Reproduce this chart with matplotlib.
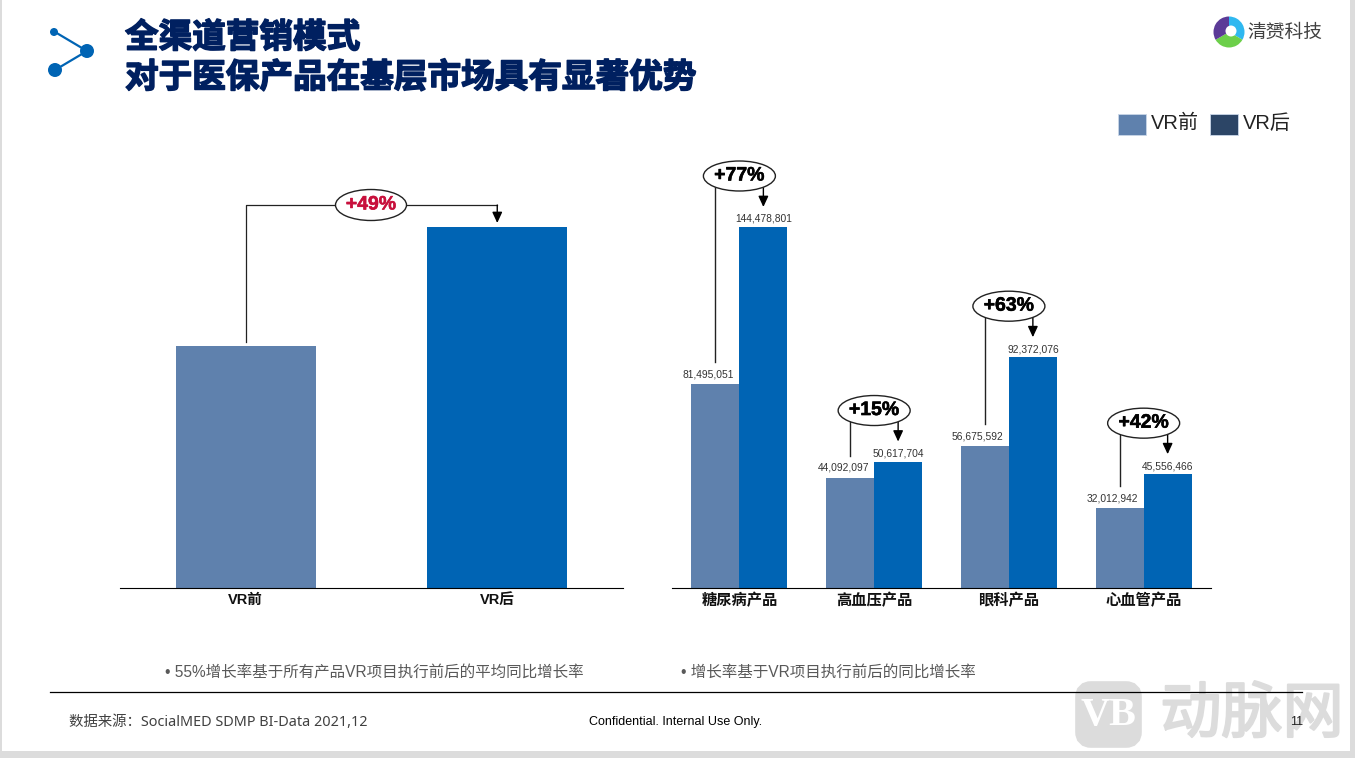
# -*- coding: utf-8 -*-
import matplotlib; matplotlib.use("Agg")
import matplotlib.pyplot as plt
import matplotlib.patheffects as pe
from matplotlib.patches import Rectangle, Circle, Ellipse, Wedge, FancyBboxPatch

plt.rcParams["font.family"] = ["Liberation Sans", "Noto Sans CJK SC", "DejaVu Sans"]
CJK = ["Noto Sans CJK SC", "DejaVu Sans"]

# data
overall_cats = ["VR前", "VR后"]
overall_vals = [100, 149]
overall_pct = "+49%"
products = ["糖尿病产品", "高血压产品", "眼科产品", "心血管产品"]
vr_before = [81495051, 44092097, 56675592, 32012942]
vr_after = [144478801, 50617704, 92372076, 45556466]
pcts = ["+77%", "+15%", "+63%", "+42%"]

C_BEFORE, C_AFTER = "#5F81AD", "#0064B4"
W, H = 1355, 758
fig = plt.figure(figsize=(W/100, H/100), dpi=100, facecolor="#DCDCDC")

def axes_px(x0, x1, ytop, ybot, **kw):
    return fig.add_axes([x0/W, 1-ybot/H, (x1-x0)/W, (ybot-ytop)/H], **kw)

# overlay in image pixels, y down
bg = axes_px(0, W, 0, H); bg.set_xlim(0, W); bg.set_ylim(H, 0); bg.axis("off")
bg.add_patch(Rectangle((2, -2), 1348, 753, fc="white", ec="none", zorder=0))

# watermark under everything else
bg.add_patch(FancyBboxPatch((1087, 693), 43, 43, boxstyle="round,pad=0,rounding_size=4", mutation_aspect=1,
                            fc="#DCDCDC", ec="#DCDCDC", lw=17, zorder=1))
bg.text(1108, 715, "VB", fontsize=29, fontweight="bold", family="Liberation Serif", color="white",
        ha="center", va="center", zorder=1)
bg.text(1252, 715, "动脉网", fontsize=44, family=CJK, color="#DCDCDC",
        ha="center", va="center", zorder=1, path_effects=[pe.withStroke(linewidth=1.5, foreground="#DCDCDC")])

# bars
a1 = axes_px(120, 623, 188, 588)
a1.bar(range(2), overall_vals, width=140/251.5, color=[C_BEFORE, C_AFTER])
a1.set_xlim(-.5, 1.5); a1.set_ylim(0, max(overall_vals)*400/361)
a2 = axes_px(672, 1211, 188, 588)
BW = 48/134.75
a2.bar([i-BW/2 for i in range(4)], vr_before, width=BW, color=C_BEFORE)
a2.bar([i+BW/2 for i in range(4)], vr_after, width=BW, color=C_AFTER)
a2.set_xlim(-.5, 3.5); a2.set_ylim(0, max(vr_after)*400/361)
for a, labs in ((a1, overall_cats), (a2, products)):
    a.patch.set_alpha(0)
    for s in ("top", "left", "right"):
        a.spines[s].set_visible(False)
    a.spines["bottom"].set_linewidth(.8)
    a.set_yticks([])
    a.set_xticks(range(len(labs)))
    a.set_xticklabels(labs, fontsize=11 if a is a2 else 10.5, fontweight="bold", color="#111111")
    a.tick_params(axis="x", length=0, pad=3.5)

def px(ax, x, y):
    X, Y = ax.transData.transform((x, y))
    return X, H-Y

def arrow(x, y0, y1):
    bg.annotate("", (x, y1), (x, y0), zorder=6,
                arrowprops=dict(arrowstyle="-|>,head_width=.3,head_length=.65", color="k", lw=1, shrinkA=0, shrinkB=0))

def bubble(x, y, txt, c="k", w=72, h=30, fs=14):
    bg.add_patch(Ellipse((x, y), w, h, fc="white", ec="#222222", lw=1, zorder=7))
    bg.text(x, y, txt, fontsize=fs, fontweight="bold", color=c, ha="center", va="center", zorder=8,
            path_effects=[pe.withStroke(linewidth=.4, foreground=c)])

# left bracket
x0, t0 = px(a1, 0, overall_vals[0])
x1, t1 = px(a1, 1, overall_vals[1])
ytop = t1-22
bg.plot([x0, x0, x1], [t0-4, ytop, ytop], color="#222222", lw=.9, zorder=5)
arrow(x1, ytop, t1-4)
bubble((x0+x1)/2-.5, ytop, overall_pct, c="#C8103C", w=71, h=31)

# right brackets
for i, (b, af, p) in enumerate(zip(vr_before, vr_after, pcts)):
    xb, tb = px(a2, i-BW/2, b)
    xa, ta = px(a2, i+BW/2, af)
    ye = ta-51
    bg.plot([xb, xb], [tb-22, ye], color="#222222", lw=1, zorder=5)
    arrow(xa, ye, ta-20)
    bubble(i*134.75+739.4, ye, p)
    bg.text(xb-7, tb-10, f"{b:,}", fontsize=7.4, color="#333333", ha="center", va="center", zorder=8)
    bg.text(xa, ta-8, f"{af:,}", fontsize=7.4, color="#333333", ha="center", va="center", zorder=8)

# title + icon
for y, t in ((38, "全渠道营销模式"), (78, "对于医保产品在基层市场具有显著优势")):
    bg.text(125, y, t, fontsize=24.2, fontweight="bold", family=CJK, color="#002060", ha="left", va="center",
            path_effects=[pe.withStroke(linewidth=1.1, foreground="#002060")])
bg.plot([55, 87, 55], [32, 51, 70], color="#0064B4", lw=1.6, zorder=2)
for (x, y), r in (((54, 32), 4), ((87, 51), 7), ((55, 70), 7)):
    bg.add_patch(Circle((x, y), r, fc="#0064B4", ec="none", zorder=3))

# logo
LX, LY, LR = 1229, 32, 15.5
for t0_, t1_, c in ((-90, 30, "#2FB8F0"), (30, 150, "#6CCF4A"), (150, 270, "#5B3A97")):
    bg.add_patch(Wedge((LX, LY), LR, t0_, t1_, fc=c, ec="none", zorder=3))
bg.add_patch(Circle((LX+2, LY-1), 5.5, fc="white", ec="none", zorder=4))
bg.text(1247, 32, "清赟科技", fontsize=13.5, family=CJK, color="#404040", ha="left", va="center")

# legend
for x, c, t in ((1118, C_BEFORE, "VR前"), (1210, "#2C4566", "VR后")):
    bg.add_patch(Rectangle((x, 114), 28, 21, fc=c, ec="#C9D6E8", lw=.6))
    bg.text(x+33, 123, t, fontsize=14.5, color="#222222", ha="left", va="center")

# notes + footer
bg.text(165, 672, "• 55%增长率基于所有产品VR项目执行前后的平均同比增长率", fontsize=11.2, color="#595959", ha="left", va="center")
bg.text(681, 672, "• 增长率基于VR项目执行前后的同比增长率", fontsize=11.2, color="#595959", ha="left", va="center")
bg.plot([50, 1302], [692, 692], color="k", lw=.9, zorder=5)
bg.text(69, 722, "数据来源：SocialMED SDMP BI-Data 2021,12", fontsize=10.4, family=["Noto Sans", "Noto Sans CJK SC"],
        color="#404040", ha="left", va="center")
bg.text(676, 722, "Confidential. Internal Use Only.", fontsize=9, color="k", ha="center", va="center")
bg.text(1297, 722, "11", fontsize=9, color="#222222", ha="center", va="center", zorder=6)

fig.savefig("out.png", dpi=100, facecolor=fig.get_facecolor())
